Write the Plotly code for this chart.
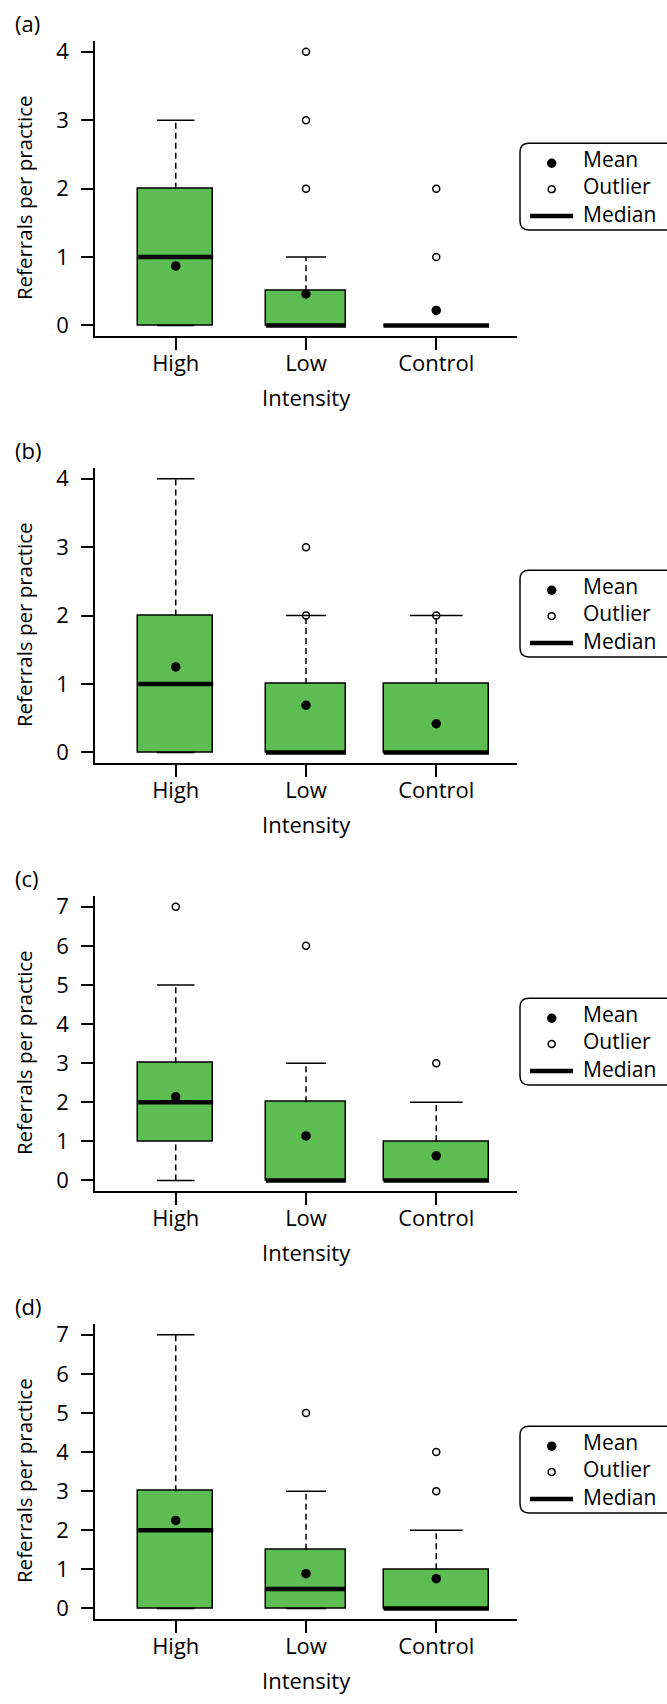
import plotly.graph_objects as go

# ---------------- data ----------------
categories = ["High", "Low", "Control"]
xpos = [1, 2, 3]
panel_labels = ["(a)", "(b)", "(c)", "(d)"]
y_max = [4, 4, 7, 7]
legend_names = ["Mean", "Outlier", "Median"]

# panel (a)
q1_a = [0, 0, 0]
med_a = [1, 0, 0]
q3_a = [2, 0.5, 0]
lo_a = [0, 0, 0]
hi_a = [3, 1, 0]
mean_a = [0.87, 0.46, 0.22]
out_a = [[], [2, 3, 4], [1, 2]]

# panel (b)
q1_b = [0, 0, 0]
med_b = [1, 0, 0]
q3_b = [2, 1, 1]
lo_b = [0, 0, 0]
hi_b = [4, 2, 2]
mean_b = [1.25, 0.69, 0.42]
out_b = [[], [2, 3], [2]]

# panel (c)
q1_c = [1, 0, 0]
med_c = [2, 0, 0]
q3_c = [3, 2, 1]
lo_c = [0, 0, 0]
hi_c = [5, 3, 2]
mean_c = [2.14, 1.14, 0.63]
out_c = [[7], [6], [3]]

# panel (d)
q1_d = [0, 0, 0]
med_d = [2, 0.5, 0]
q3_d = [3, 1.5, 1]
lo_d = [0, 0, 0]
hi_d = [7, 3, 2]
mean_d = [2.25, 0.89, 0.76]
out_d = [[], [5], [3, 4]]

panels = [
    (q1_a, med_a, q3_a, lo_a, hi_a, mean_a, out_a),
    (q1_b, med_b, q3_b, lo_b, hi_b, mean_b, out_b),
    (q1_c, med_c, q3_c, lo_c, hi_c, mean_c, out_c),
    (q1_d, med_d, q3_d, lo_d, hi_d, mean_d, out_d),
]

# ---------------- style / layout ----------------
W, H = 667, 1704
FONT = "Open Sans"
FS = 22
GREEN = "#5DBD53"
BOX_W = [0.575, 0.613, 0.81]     # varwidth box widths (x units)
OFFSETS = [0, 429, 859, 1289]     # px offset of each panel
P_LEFT, P_RIGHT, P_TOP, P_BOT = 95, 517, 36, 333
LW = 1.5
MEAN_SIZE, OUT_SIZE, MED_W = 9.5, 7, 4.5


def py(v):
    return 1 - v / H


def px(v):
    return v / W


fig = go.Figure()
annotations = []
shapes = []
txt_font = dict(family=FONT, size=FS, color="black")

for k, (q1, med, q3, lo, hi, mean, outl) in enumerate(panels):
    sfx = "" if k == 0 else str(k + 1)
    xa, ya = "x" + sfx, "y" + sfx
    off = OFFSETS[k]
    m = y_max[k]

    # boxes
    fig.add_trace(go.Bar(
        x=xpos, y=[b - a for a, b in zip(q1, q3)], base=q1, width=BOX_W,
        marker=dict(color=GREEN, line=dict(color="black", width=LW)),
        xaxis=xa, yaxis=ya, showlegend=False, hoverinfo="skip"))

    # dashed whiskers
    wx, wy = [], []
    for i in range(3):
        if hi[i] > q3[i]:
            wx += [xpos[i], xpos[i], None]
            wy += [q3[i], hi[i], None]
        if lo[i] < q1[i]:
            wx += [xpos[i], xpos[i], None]
            wy += [lo[i], q1[i], None]
    fig.add_trace(go.Scatter(
        x=wx, y=wy, mode="lines",
        line=dict(color="black", width=LW, dash="6px,4px"),
        xaxis=xa, yaxis=ya, showlegend=False, hoverinfo="skip"))

    # staples
    sx, sy = [], []
    for i in range(3):
        h = BOX_W[i] / 4
        for v in (lo[i], hi[i]):
            sx += [xpos[i] - h, xpos[i] + h, None]
            sy += [v, v, None]
    fig.add_trace(go.Scatter(
        x=sx, y=sy, mode="lines", line=dict(color="black", width=LW),
        xaxis=xa, yaxis=ya, showlegend=False, hoverinfo="skip"))

    # medians
    mx, my = [], []
    for i in range(3):
        h = BOX_W[i] / 2
        mx += [xpos[i] - h, xpos[i] + h, None]
        my += [med[i], med[i], None]
    fig.add_trace(go.Scatter(
        x=mx, y=my, mode="lines", name="Median",
        line=dict(color="black", width=MED_W),
        xaxis=xa, yaxis=ya, showlegend=False, hoverinfo="skip"))

    # outliers
    ox, oy = [], []
    for i in range(3):
        for v in outl[i]:
            ox.append(xpos[i])
            oy.append(v)
    fig.add_trace(go.Scatter(
        x=ox, y=oy, mode="markers", name="Outlier",
        marker=dict(symbol="circle-open", size=OUT_SIZE, color="black",
                    line=dict(width=LW, color="black")),
        xaxis=xa, yaxis=ya, showlegend=False, hoverinfo="skip"))

    # means
    fig.add_trace(go.Scatter(
        x=xpos, y=mean, mode="markers", name="Mean",
        marker=dict(symbol="circle", size=MEAN_SIZE, color="black"),
        xaxis=xa, yaxis=ya, showlegend=False, hoverinfo="skip"))

    axis_common = dict(
        showline=True, linecolor="black", linewidth=LW,
        ticks="outside", ticklen=12, tickwidth=LW, tickcolor="black",
        showgrid=False, zeroline=False, fixedrange=True,
        tickfont=txt_font,
    )
    fig.update_layout(**{
        "xaxis" + sfx: dict(
            domain=[px(P_LEFT), px(P_RIGHT)], range=[0.38, 3.62],
            tickmode="array", tickvals=xpos, ticktext=categories,
            anchor=ya, ticklabelstandoff=-6, **axis_common),
        "yaxis" + sfx: dict(
            domain=[py(P_BOT + off), py(P_TOP + off)],
            range=[-0.04 * m, 1.04 * m],
            tickmode="array", tickvals=list(range(0, m + 1)),
            anchor=xa, ticklabelstandoff=8, **axis_common),
    })

    # axis titles and panel label
    annotations.append(dict(
        text="Intensity", xref=xa + " domain", x=0.5, yref="paper",
        y=py(394 + off), xanchor="center", yanchor="middle", showarrow=False,
        font=txt_font))
    annotations.append(dict(
        text="Referrals per practice", xref="paper", x=px(24), yref="paper",
        y=py(194 + off), xanchor="center", yanchor="middle", textangle=-90,
        showarrow=False, font=dict(family=FONT, size=20.5, color="black")))
    annotations.append(dict(
        text=panel_labels[k], xref="paper", x=px(13), yref="paper",
        y=py(18 + off), xanchor="left", yanchor="middle", showarrow=False,
        font=txt_font))

    # ---- legend (rounded frame, open on the right, running off the page)
    x0, x1 = px(520), px(675)
    y0, y1 = py(139 + off), py(226 + off)
    rx, ry = 9 / W, 9 / H
    path = (f"M {x1},{y0} L {x0 + rx},{y0} Q {x0},{y0} {x0},{y0 - ry} "
            f"L {x0},{y1 + ry} Q {x0},{y1} {x0 + rx},{y1} L {x1},{y1}")
    shapes.append(dict(type="path", xref="paper", yref="paper", path=path,
                       line=dict(color="black", width=LW)))
    gx = 551.7
    # mean glyph
    r = MEAN_SIZE / 2
    shapes.append(dict(type="circle", xref="paper", yref="paper",
                       x0=px(gx - r), x1=px(gx + r),
                       y0=py(159 + off + r), y1=py(159 + off - r),
                       fillcolor="black", line=dict(width=0)))
    # outlier glyph
    r = OUT_SIZE / 2
    shapes.append(dict(type="circle", xref="paper", yref="paper",
                       x0=px(gx - r), x1=px(gx + r),
                       y0=py(185 + off + r), y1=py(185 + off - r),
                       fillcolor="white", line=dict(color="black", width=LW)))
    # median glyph
    shapes.append(dict(type="line", xref="paper", yref="paper",
                       x0=px(530), x1=px(573),
                       y0=py(212 + off), y1=py(212 + off),
                       line=dict(color="black", width=MED_W)))
    annotations.append(dict(
        text="<br>".join(legend_names), xref="paper", x=px(581),
        yref="paper", y=py(182 + off), xanchor="left", yanchor="middle",
        align="left", showarrow=False,
        font=dict(family=FONT, size=21, color="black")))

fig.update_layout(
    width=W, height=H,
    margin=dict(l=0, r=0, t=0, b=0),
    paper_bgcolor="white", plot_bgcolor="white",
    font=txt_font,
    annotations=annotations, shapes=shapes,
    showlegend=False, bargap=0,
)

fig.write_html("out.html")
